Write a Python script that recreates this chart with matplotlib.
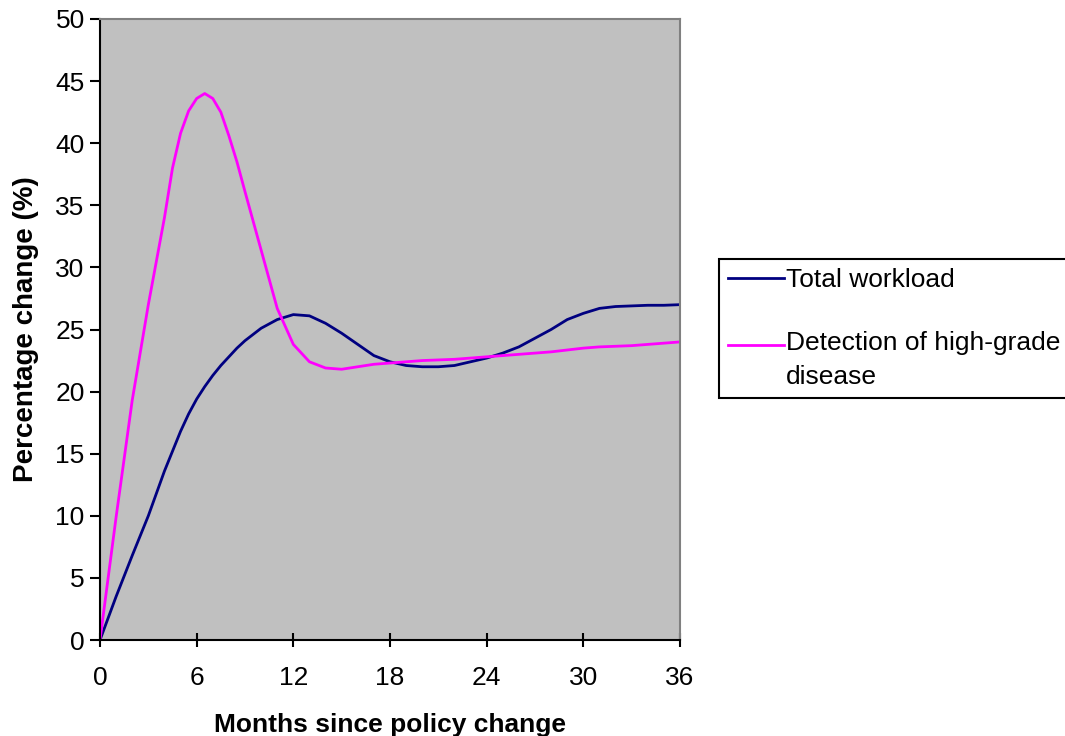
import matplotlib
matplotlib.use('Agg')
import matplotlib.pyplot as plt

plt.rcParams['font.family'] = ['Liberation Sans', 'DejaVu Sans']

# Months since policy change (monthly, half-monthly around the peak)
months = [0, 1, 2, 3, 4, 4.5, 5, 5.5, 6, 6.5, 7, 7.5, 8, 8.5, 9,
          10, 11, 12, 13, 14, 15, 16, 17, 18, 19, 20, 21, 22, 23, 24,
          25, 26, 27, 28, 29, 30, 31, 32, 33, 34, 35, 36]

# Total workload, % change
workload = [0.0, 3.5, 6.8, 10.0, 13.6, 15.2, 16.8, 18.2, 19.4, 20.4,
            21.3, 22.1, 22.8, 23.5, 24.1,
            25.1, 25.8, 26.2, 26.1, 25.5, 24.7, 23.8, 22.9, 22.4, 22.1,
            22.0, 22.0, 22.1, 22.4, 22.7, 23.1, 23.6, 24.3, 25.0, 25.8,
            26.3, 26.7, 26.85, 26.9, 26.95, 26.95, 27.0]

# Detection of high-grade disease, % change
detection = [0.0, 9.9, 19.3, 27.0, 34.0, 38.0, 40.8, 42.6, 43.6, 44.0,
             43.6, 42.5, 40.6, 38.5, 36.1,
             31.4, 26.7, 23.8, 22.4, 21.9, 21.8, 22.0, 22.2, 22.3, 22.4,
             22.5, 22.55, 22.6, 22.7, 22.8, 22.9, 23.0, 23.1, 23.2, 23.35,
             23.5, 23.6, 23.65, 23.7, 23.8, 23.9, 24.0]

x_ticks = [0, 6, 12, 18, 24, 30, 36]
y_ticks = list(range(0, 51, 5))

fig = plt.figure(figsize=(10.65, 7.36), dpi=100)
ax = fig.add_axes([100 / 1065, 96 / 736, 580 / 1065, 621 / 736])
ax.set_facecolor('#c0c0c0')

ax.plot(months, workload, color='#000080', lw=2, label='Total workload')
ax.plot(months, detection, color='#ff00ff', lw=2,
        label='Detection of high-grade\ndisease')

ax.set_xlim(0, 36)
ax.set_ylim(0, 50)
ax.set_xticks(x_ticks)
ax.set_yticks(y_ticks)
ax.tick_params(axis='x', direction='inout', length=10, width=1.5,
               labelsize=19, pad=14)
ax.tick_params(axis='y', direction='out', length=7, width=1.5,
               labelsize=19, pad=4)

for side in ['left', 'bottom']:
    ax.spines[side].set_color('black')
    ax.spines[side].set_linewidth(1.5)
for side in ['top', 'right']:
    ax.spines[side].set_color('#808080')
    ax.spines[side].set_linewidth(1.5)

ax.set_xlabel('Months since policy change', fontsize=19, fontweight='bold',
              labelpad=16)
ax.set_ylabel('Percentage change (%)', fontsize=20, fontweight='bold',
              labelpad=12)

leg = fig.legend(loc='upper left', bbox_to_anchor=(719 / 1065, 1 - 259 / 736),
                 fontsize=19, frameon=True, fancybox=False, framealpha=1,
                 edgecolor='black', handlelength=2.1, handletextpad=0.1,
                 labelspacing=1.45, borderpad=0.35, borderaxespad=0)
leg.get_frame().set_linewidth(1.5)
for t in leg.get_texts():
    t.set_linespacing(1.55)

# in the reference the second key line sits level with the first text line
pink_key = leg.get_lines()[1]
pink_key.set_ydata([v + 11 for v in pink_key.get_ydata()])

fig.savefig('out.png', dpi=100)
